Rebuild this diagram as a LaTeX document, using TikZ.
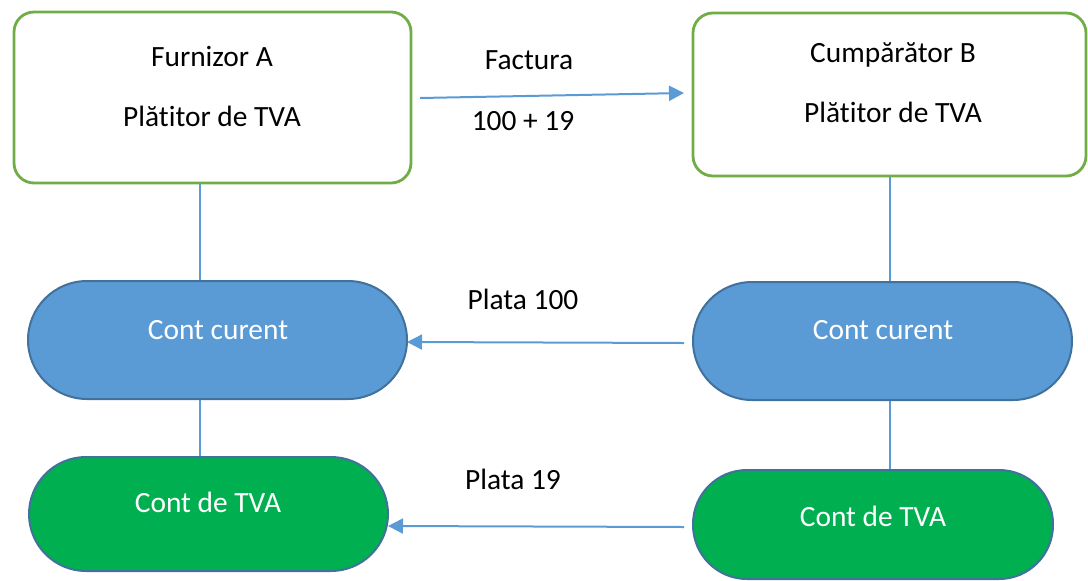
\documentclass[tikz,border=0pt]{standalone}
\usepackage{fontspec}
\setmainfont{Carlito}[Ligatures={NoCommon}]
\usetikzlibrary{arrows.meta}
\definecolor{boxgreen}{HTML}{70AD47}
\definecolor{accblue}{HTML}{5B9BD5}
\definecolor{darkblue}{HTML}{41719C}
\definecolor{accgreen}{HTML}{00B050}
\tikzset{
  party/.style={draw=boxgreen, line width=1.4pt, fill=white, rounded corners=10pt, inner sep=0pt},
  acct/.style={draw=darkblue, line width=1pt, inner sep=0pt},
  curacct/.style={acct, fill=accblue, minimum width=189.5pt, minimum height=59pt, rounded corners=29.5pt},
  vatacct/.style={acct, fill=accgreen},
  txt/.style={anchor=base, inner sep=0pt, font=\fontsize{14.7}{18}\selectfont},
  wtxt/.style={txt, text=white},
  link/.style={draw=accblue, line width=1pt},
  flow/.style={link, -{Triangle[length=7.5pt,width=7.5pt]}}
}
\begin{document}
\begin{tikzpicture}[x=0.5pt,y=-0.5pt]
\useasboundingbox (0,0) rectangle (1088,580);
% parties
\node[party, minimum width=198.5pt, minimum height=85.5pt] (A) at (212.5,97.5) {};
\node[party, minimum width=196.5pt, minimum height=81.5pt] (B) at (889.5,94.5) {};
\node[txt] (A1) at (212,66) {Furnizor A};
\node[txt] (A2) at (212,126) {Plătitor de TVA};
\node[txt] (B1) at (893,62) {Cumpărător B};
\node[txt] (B2) at (893,122) {Plătitor de TVA};
% accounts
\node[curacct] (CA) at (217.5,340) {};
\node[curacct] (CB) at (882.5,341) {};
\node[vatacct, minimum width=179.5pt, minimum height=57pt, rounded corners=28.5pt] (VA) at (208.5,514) {};
\node[vatacct, minimum width=180pt, minimum height=54.5pt, rounded corners=27pt] (VB) at (873,524.5) {};
\node[wtxt] (CAt) at (218,339) {Cont curent};
\node[wtxt] (CBt) at (883,339) {Cont curent};
\node[wtxt] (VAt) at (208,512) {Cont de TVA};
\node[wtxt] (VBt) at (873,526) {Cont de TVA};
% vertical links
\coordinate (xa) at (200,0);
\coordinate (xb) at (890,0);
\draw[link] (A.south -| xa) -- (CA.north -| xa);
\draw[link] (CA.south -| xa) -- (VA.north -| xa);
\draw[link] (B.south -| xb) -- (CB.north -| xb);
\draw[link] (CB.south -| xb) -- (VB.north -| xb);
% flows
\coordinate (f1) at (420,98);
\coordinate (f2) at (684,93);
\draw[flow] (f1) -- (f2);
\node[txt] (fl1) at (529,69) {Factura};
\node[txt] (fl2) at (523,130) {100 + 19};
\coordinate (p1) at (684,343);
\coordinate (p1e) at (407,342);
\draw[flow] (p1) -- (p1e);
\node[txt] (pl1) at (523,309) {Plata 100};
\coordinate (p2) at (684,527);
\coordinate (p2e) at (388,526);
\draw[flow] (p2) -- (p2e);
\node[txt] (pl2) at (513,489) {Plata 19};
\end{tikzpicture}
\end{document}
